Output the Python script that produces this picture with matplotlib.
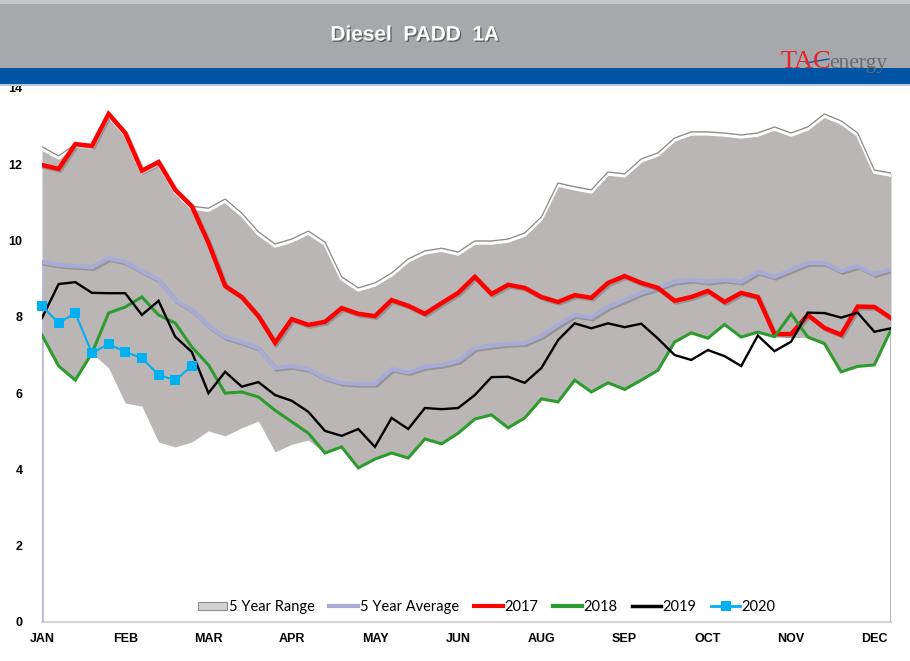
import matplotlib
matplotlib.use("Agg")
import matplotlib.pyplot as plt
import matplotlib.patheffects as pe
from matplotlib.patches import Rectangle
from matplotlib.lines import Line2D
from matplotlib.legend_handler import HandlerPatch
import numpy as np

# ---------------- data ----------------
month_labels = ["JAN", "FEB", "MAR", "APR", "MAY", "JUN", "AUG", "SEP", "OCT", "NOV", "DEC"]
label_step = 5  # weeks between labels

range_high = [12.46, 12.22, 12.53, 12.48, 13.32, 12.82, 11.83, 12.06, 11.33, 10.90,
              10.85, 11.09, 10.72, 10.23, 9.91, 10.04, 10.25, 9.96, 9.05, 8.76,
              8.89, 9.15, 9.52, 9.73, 9.80, 9.70, 9.99, 9.99, 10.04, 10.20,
              10.62, 11.51, 11.41, 11.33, 11.80, 11.75, 12.14, 12.30, 12.69, 12.85,
              12.85, 12.82, 12.77, 12.82, 12.98, 12.82, 12.98, 13.32, 13.14, 12.82,
              11.85, 11.77]
range_low = [7.52, 6.71, 6.34, 7.05, 6.66, 5.74, 5.66, 4.72, 4.59, 4.72,
             5.01, 4.88, 5.09, 5.27, 4.46, 4.66, 4.77, 4.43, 4.59, 4.04,
             4.27, 4.43, 4.30, 4.80, 4.67, 4.95, 5.32, 5.43, 5.09, 5.35,
             5.85, 5.77, 6.34, 6.03, 6.27, 6.06, 6.34, 6.63, 7.34, 7.57,
             7.44, 7.80, 7.47, 7.60, 7.50, 7.45, 7.47, 7.26, 6.56, 6.69,
             6.74, 7.66]
avg_5yr = [9.44, 9.36, 9.33, 9.30, 9.54, 9.44, 9.20, 8.97, 8.44, 8.18,
           7.76, 7.47, 7.34, 7.18, 6.66, 6.71, 6.63, 6.40, 6.27, 6.24,
           6.24, 6.63, 6.55, 6.69, 6.74, 6.84, 7.18, 7.24, 7.29, 7.31,
           7.50, 7.79, 8.05, 7.98, 8.26, 8.44, 8.63, 8.76, 8.92, 8.97,
           8.92, 8.97, 8.92, 9.18, 9.05, 9.23, 9.41, 9.41, 9.20, 9.33,
           9.12, 9.25]
y2017 = [11.98, 11.88, 12.53, 12.48, 13.32, 12.82, 11.83, 12.06, 11.33, 10.90,
         9.94, 8.81, 8.52, 8.02, 7.32, 7.94, 7.79, 7.87, 8.23, 8.08,
         8.02, 8.44, 8.29, 8.08, 8.36, 8.63, 9.05, 8.60, 8.84, 8.76,
         8.52, 8.39, 8.57, 8.50, 8.89, 9.07, 8.89, 8.76, 8.42, 8.52,
         8.68, 8.39, 8.63, 8.52, 7.55, 7.55, 8.05, 7.71, 7.53, 8.27,
         8.26, 7.97]
y2018 = [7.52, 6.71, 6.34, 7.05, 8.10, 8.26, 8.52, 8.05, 7.84, 7.21,
         6.74, 6.00, 6.03, 5.90, 5.55, 5.25, 4.95, 4.43, 4.59, 4.04,
         4.27, 4.43, 4.30, 4.80, 4.67, 4.95, 5.32, 5.43, 5.09, 5.35,
         5.85, 5.77, 6.34, 6.03, 6.27, 6.10, 6.34, 6.60, 7.34, 7.58,
         7.44, 7.80, 7.47, 7.60, 7.48, 8.08, 7.47, 7.30, 6.56, 6.70,
         6.74, 7.66]
y2019 = [7.97, 8.86, 8.91, 8.63, 8.62, 8.62, 8.05, 8.42, 7.48, 7.08,
         6.00, 6.56, 6.17, 6.29, 5.95, 5.80, 5.51, 5.01, 4.88, 5.06,
         4.59, 5.35, 5.06, 5.61, 5.58, 5.61, 5.95, 6.42, 6.43, 6.27,
         6.66, 7.39, 7.83, 7.70, 7.83, 7.73, 7.82, 7.43, 7.00, 6.87,
         7.13, 6.97, 6.71, 7.51, 7.10, 7.35, 8.11, 8.10, 7.98, 8.11,
         7.61, 7.70]
y2020 = [8.28, 7.84, 8.10, 7.05, 7.29, 7.08, 6.92, 6.48, 6.34, 6.71]

# ---------------- figure ----------------
W, H = 910, 661
fig = plt.figure(figsize=(W / 100, H / 100), dpi=100)
fig.patch.set_facecolor("white")

# header bands
fig.patches.append(Rectangle((0, 1 - 68 / H), 1, 68 / H, transform=fig.transFigure,
                             facecolor="#a7a8ab", edgecolor="none", zorder=0))
fig.patches.append(Rectangle((0, 1 - 4 / H), 1, 4 / H, transform=fig.transFigure,
                             facecolor="#c4c5c8", edgecolor="none", zorder=0))
fig.patches.append(Rectangle((0, 1 - 84 / H), 1, 16 / H, transform=fig.transFigure,
                             facecolor="#0054a4", edgecolor="none", zorder=0))
fig.patches.append(Rectangle((0, 1 - 86 / H), 1, 2 / H, transform=fig.transFigure,
                             facecolor="#b9c7dc", edgecolor="none", zorder=0))

fig.text(415 / W, 1 - 35 / H, "Diesel  PADD  1A", color="white", fontsize=15,
         fontweight="bold", family="Liberation Sans", ha="center", va="center",
         path_effects=[pe.withSimplePatchShadow(offset=(1, -1), shadow_rgbFace="#444444", alpha=0.7)])

# logo
fig.text(831 / W, 1 - 68 / H, "TAC", color="#e2262c", fontsize=19, family="Liberation Serif",
         ha="right", va="baseline")
fig.text(829 / W, 1 - 68 / H, "energy", color="#6b6c70", fontsize=15.5, family="Liberation Serif",
         ha="left", va="baseline")
fig.add_artist(Line2D([806 / W, 829 / W], [1 - 63 / H, 1 - 59 / H], transform=fig.transFigure,
                      color="#1f4e9a", lw=1.0))

# axes
ax = fig.add_axes([42 / W, 39 / H, 849 / W, 534 / H])
ax.set_facecolor("none")
x = np.arange(len(range_high))
ax.set_xlim(0, len(range_high) - 1)
ax.set_ylim(0, 14)

fill_color = "#bab6b5"
ax.fill_between(x, range_low, range_high, color=fill_color, lw=0, zorder=1)
# bevel on top edge: dark edge line with a white highlight just beneath it
ax.plot(x, range_high, color="#8e8888", lw=0.9, zorder=2, solid_joinstyle="round",
        path_effects=[pe.Stroke(linewidth=2.2, foreground="white", offset=(0, -1.6)),
                      pe.Normal()])

# frame lines
ax.plot([x[0], x[-1]], [0, 0], color="#d4d4d4", lw=1.5, zorder=2, clip_on=False)
ax.vlines(x[0], 0, avg_5yr[0], color="#b8bade", lw=2, zorder=2)
ax.vlines(x[-1], 0, avg_5yr[-1], color="#b5b5c8", lw=1.5, zorder=2)

shadow = [pe.SimpleLineShadow(offset=(1.2, -1.2), shadow_color="#555555", alpha=0.35), pe.Normal()]

ax.plot(x, avg_5yr, color="#a9abd6", lw=3, zorder=3, path_effects=shadow, solid_joinstyle="round")
ax.plot(x, y2017, color="#ff0000", lw=3.2, zorder=4, path_effects=shadow, solid_joinstyle="miter")
ax.plot(x, y2018, color="#2e9b2e", lw=2.2, zorder=5, solid_joinstyle="miter")
ax.plot(x, y2019, color="#000000", lw=1.7, zorder=6, solid_joinstyle="miter")
ax.plot(x[:len(y2020)], y2020, color="#00b0f0", lw=1.5, marker="s", markersize=7.5,
        markeredgewidth=0, zorder=7, clip_on=False)

# ticks
tick_pos = np.arange(0, len(month_labels) * label_step, label_step)
ax.set_xticks(tick_pos)
ax.set_xticklabels(month_labels)
ax.set_yticks(np.arange(0, 15, 2))
ax.set_yticklabels([str(v) for v in range(0, 15, 2)])
ax.tick_params(axis="both", length=0, labelsize=9)
ax.tick_params(axis="x", pad=8)
ax.tick_params(axis="y", pad=14)
for lab in ax.get_xticklabels() + ax.get_yticklabels():
    lab.set_fontweight("bold")
    lab.set_family("Liberation Sans")
for s in ax.spines.values():
    s.set_visible(False)

# legend
class BevelHandler(HandlerPatch):
    def create_artists(self, legend, orig_handle, xdescent, ydescent, width, height, fontsize, trans):
        r = Rectangle((-xdescent, -ydescent + height * 0.15), width, height * 0.7,
                      facecolor="#d2d2d2", edgecolor="#8c8c8c", lw=0.8, transform=trans)
        return [r]

h_range = Rectangle((0, 0), 1, 1)
handles = [h_range,
           Line2D([], [], color="#a9abd6", lw=3),
           Line2D([], [], color="#ff0000", lw=3),
           Line2D([], [], color="#2e9b2e", lw=3),
           Line2D([], [], color="#000000", lw=2.5),
           Line2D([], [], color="#00b0f0", lw=2, marker="s", markersize=7, markeredgewidth=0)]
labels = ["5 Year Range", "5 Year Average", "2017", "2018", "2019", "2020"]
leg = ax.legend(handles, labels, loc="center", bbox_to_anchor=(0.524, 0.028), ncol=6,
                frameon=False, handlelength=2.0, handletextpad=0.1, columnspacing=1.0,
                prop={"family": "Lato", "size": 10.5},
                handler_map={Rectangle: BevelHandler()})

fig.savefig("out.png", dpi=100)
